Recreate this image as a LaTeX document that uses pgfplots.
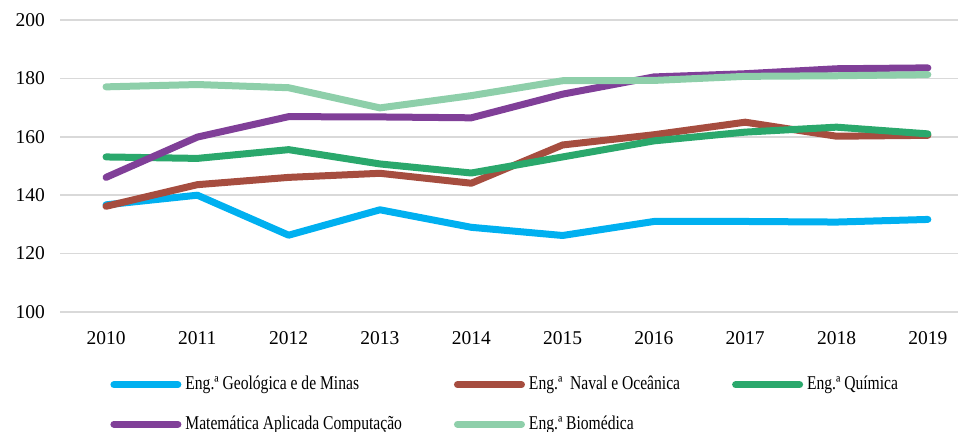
\documentclass[border=0pt]{standalone}
\usepackage{fontspec}
\setmainfont{Liberation Serif}
\newfontfamily\condfont{Liberation Serif}[FakeStretch=0.8]
\usepackage{pgfplots}
\pgfplotsset{compat=1.18}
\definecolor{cblue}{RGB}{0,176,240}
\definecolor{cred}{RGB}{166,77,63}
\definecolor{cgreen}{RGB}{42,168,108}
\definecolor{cpurple}{RGB}{128,63,152}
\definecolor{clgreen}{RGB}{142,207,170}
\definecolor{gridgray}{RGB}{217,217,217}
\begin{document}
\begin{tikzpicture}
\begin{axis}[
  at={(0,0)}, anchor=south west,
  scale only axis, width=449pt, height=146pt,
  xmin=-0.504, xmax=9.33, ymin=100, ymax=200,
  ytick={100,120,...,200},
  xtick={0,...,9},
  xticklabels={2010,2011,2012,2013,2014,2015,2016,2017,2018,2019},
  axis line style={draw=none}, major tick length=0pt,
  ymajorgrids, grid style={color=gridgray, line width=0.75pt},
  clip=false,
  font=\fontsize{9.75}{11.7}\selectfont,
  /pgf/number format/assume math mode=true,
  yticklabel style={xshift=-4pt},
  xticklabel style={yshift=-6pt},
  legend columns=3,
  legend cell align=left,
  legend style={draw=none, fill=none, at={(rel axis cs:0,0)}, xshift=25pt, yshift=-30pt,
    anchor=north west, inner sep=0pt, row sep=7.5pt,
    font=\condfont\fontsize{9.75}{11.7}\selectfont,
    /tikz/every even column/.append style={column sep=24pt}},
  legend image code/.code={\path (0pt,0pt) -- (32pt,0pt);\draw[#1, line cap=round] (1.5pt,0pt) -- (30pt,0pt);},
  every axis plot/.append style={line width=3.5pt, line join=round, line cap=round, mark=none},
]
\addplot[cblue] coordinates {(0,136.7) (1,140.0) (2,126.3) (3,135.0) (4,129.0) (5,126.2) (6,131.0) (7,131.0) (8,130.8) (9,131.7)};
\addlegendentry{Eng.ª Geológica e de Minas}
\addplot[cred] coordinates {(0,136.2) (1,143.6) (2,146.1) (3,147.5) (4,144.1) (5,157.2) (6,160.7) (7,165.0) (8,160.2) (9,160.5)};
\addlegendentry{Eng.ª~ Naval e Oceânica}
\addplot[cgreen] coordinates {(0,153.1) (1,152.6) (2,155.6) (3,150.7) (4,147.6) (5,153.1) (6,158.6) (7,161.6) (8,163.3) (9,161.0)};
\addlegendentry{Eng.ª Química}
\addplot[cpurple] coordinates {(0,146.1) (1,159.9) (2,166.9) (3,166.8) (4,166.5) (5,174.6) (6,180.5) (7,181.6) (8,183.3) (9,183.6)};
\addlegendentry{Matemática Aplicada Computação}
\addplot[clgreen] coordinates {(0,177.1) (1,177.9) (2,176.8) (3,169.9) (4,174.1) (5,179.2) (6,179.3) (7,180.7) (8,180.9) (9,181.3)};
\addlegendentry{Eng.ª Biomédica}
\end{axis}
\pgfresetboundingbox
\useasboundingbox (-30pt,-60pt) rectangle (449pt,156pt);
\end{tikzpicture}
\end{document}
